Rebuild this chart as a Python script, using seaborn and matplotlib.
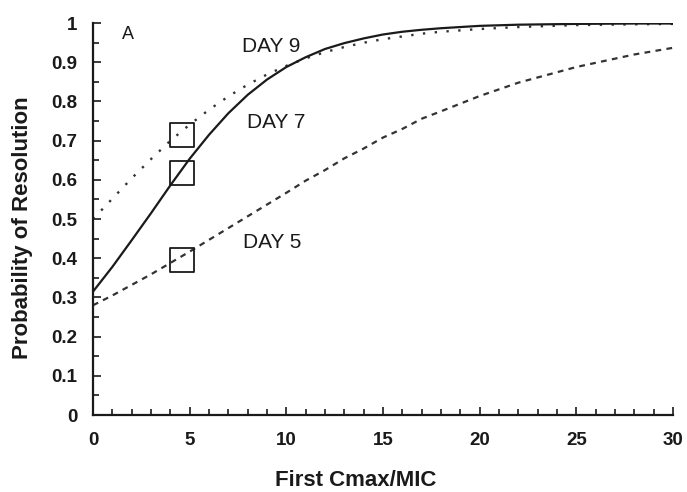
import matplotlib
matplotlib.use("Agg")
import matplotlib.pyplot as plt
from matplotlib.ticker import MultipleLocator
import seaborn as sns
import pandas as pd

# Probability of resolution versus first Cmax/MIC, by day of therapy
cmax_mic = [0, 1, 2, 3, 4, 5, 6, 7, 8, 9, 10, 11, 12, 13, 14, 15, 16, 17,
            18, 20, 22, 25, 28, 30]
day9 = [0.500, 0.552, 0.604, 0.653, 0.700, 0.741, 0.779, 0.813, 0.843, 0.869,
        0.891, 0.910, 0.926, 0.939, 0.950, 0.959, 0.966, 0.973,
        0.978, 0.985, 0.990, 0.995, 0.997, 0.998]
day7 = [0.315, 0.378, 0.446, 0.515, 0.586, 0.654, 0.715, 0.770, 0.817, 0.856,
        0.888, 0.913, 0.934, 0.949, 0.961, 0.971, 0.978, 0.983,
        0.987, 0.993, 0.996, 0.998, 0.999, 0.999]
day5 = [0.280, 0.305, 0.332, 0.359, 0.388, 0.417, 0.447, 0.477, 0.507, 0.537,
        0.567, 0.598, 0.625, 0.655, 0.680, 0.708, 0.730, 0.756,
        0.775, 0.814, 0.848, 0.888, 0.920, 0.937]

# Observed values (open squares)
obs_x = [4.6, 4.6, 4.6]
obs_y = [0.715, 0.617, 0.395]

curve_labels = ["DAY 9", "DAY 7", "DAY 5"]

sns.set_style("ticks")
plt.rcParams["font.family"] = ["Liberation Sans", "DejaVu Sans"]

fig = plt.figure(figsize=(6.87, 4.92), dpi=100)
ax = fig.add_axes([0.1354, 0.1565, 0.8442, 0.7965])

ink = "#1a1a1a"
df = pd.DataFrame({"x": cmax_mic, "d9": day9, "d7": day7, "d5": day5})
sns.lineplot(data=df, x="x", y="d9", ax=ax, color="#333333", lw=1.7,
             linestyle=(0, (1.0, 4.0)))
sns.lineplot(data=df, x="x", y="d7", ax=ax, color=ink, lw=1.6)
sns.lineplot(data=df, x="x", y="d5", ax=ax, color="#333333", lw=1.6,
             linestyle=(0, (2.6, 2.4)))

sns.scatterplot(x=obs_x, y=obs_y, ax=ax, marker="s", s=300,
                facecolor="none", edgecolor=ink, linewidth=1.3, zorder=5)

ax.text(1.5, 0.972, "A", fontsize=13, color=ink, ha="left", va="center")
ax.text(7.7, 0.941, curve_labels[0], fontsize=15, color=ink, ha="left", va="center")
ax.text(7.95, 0.747, curve_labels[1], fontsize=15, color=ink, ha="left", va="center")
ax.text(7.75, 0.441, curve_labels[2], fontsize=15, color=ink, ha="left", va="center")

ax.set_xlim(0, 30)
ax.set_ylim(0, 1)
ax.xaxis.set_major_locator(MultipleLocator(5))
ax.xaxis.set_minor_locator(MultipleLocator(1))
ax.yaxis.set_major_locator(MultipleLocator(0.1))
ax.yaxis.set_minor_locator(MultipleLocator(0.05))
ax.yaxis.set_major_formatter(plt.FuncFormatter(lambda v, p: f"{v:g}"))

ax.tick_params(axis="both", which="both", direction="in", color=ink,
               width=1.2)
ax.tick_params(axis="both", which="major", length=6, labelsize=13.5,
               labelcolor=ink)
ax.tick_params(axis="x", which="major", pad=12)
ax.tick_params(axis="y", which="major", pad=11)
ax.tick_params(axis="both", which="minor", length=4)
for lab in ax.get_xticklabels() + ax.get_yticklabels():
    lab.set_fontweight("semibold")

sns.despine(ax=ax)
for side in ("left", "bottom"):
    ax.spines[side].set_linewidth(1.6)
    ax.spines[side].set_color(ink)

ax.set_xlabel("First Cmax/MIC", fontsize=16, fontweight="bold", color=ink,
              va="center")
ax.set_ylabel("Probability of Resolution", fontsize=16, fontweight="bold",
              color=ink, va="center")
ax.xaxis.set_label_coords(0.453, -0.166)
ax.yaxis.set_label_coords(-0.122, 0.477)

fig.savefig("out.png", dpi=100)
